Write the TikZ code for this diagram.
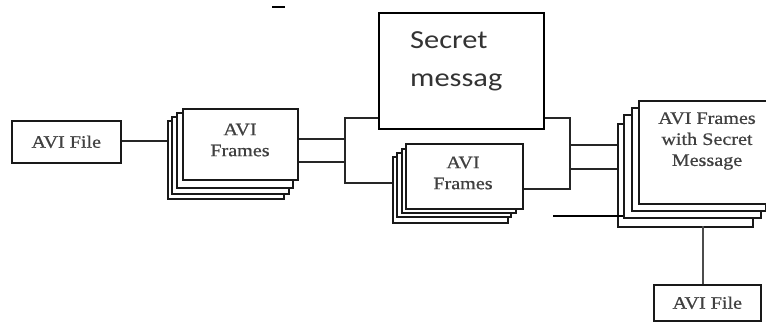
\documentclass[tikz,border=0pt]{standalone}
\usepackage{fontspec}
\newfontfamily\serifwide[FakeStretch=1.15, FakeBold=0.6]{Liberation Serif}
\newfontfamily\sanswide[FakeStretch=1.17]{Carlito}
\tikzset{
  layer/.style={draw=black!90, fill=white, line width=1.5pt, inner sep=0pt, anchor=north west},
  plainbox/.style={draw=black!90, fill=white, line width=1.6pt, inner sep=0pt, anchor=north west},
  lbl/.style={align=center, inner sep=0pt, font=\serifwide\fontsize{17.5}{21}\selectfont, text=black!75},
  wire/.style={draw=black!85, line width=1.4pt},
}
% a rectangle given by its corners (x1,y1) and (x2,y2), in pixel units
\newcommand\rectnode[6]{%
  \node[#1, minimum width={(#5-#3)*1pt}, minimum height={(#6-#4)*1pt}] (#2) at (#3,#4) {};}
\begin{document}
\begin{tikzpicture}[x=1pt, y=-1pt]
\useasboundingbox (0,0) rectangle (766,322);
\clip (0,0) rectangle (766,322);

% source file
\node[plainbox, minimum width=109pt, minimum height=42pt] (srcfile) at (11,120) {};
\node[lbl] at (srcfile.center) {AVI File};

% first stack of frames
\rectnode{layer}{sa}{167}{120}{283}{198}
\rectnode{layer}{sb}{171}{116}{288}{193}
\rectnode{layer}{sc}{176}{112}{292}{187}
\rectnode{layer}{sd}{182}{108}{297}{179}
\node[lbl] at (240,140) {AVI\\Frames};

% secret message
\rectnode{draw=black, fill=white, line width=2.4pt, inner sep=0pt, anchor=north west}{secret}{378}{12}{543}{128}
\node[anchor=north west, inner sep=0pt, align=left, font=\sanswide\fontsize{26}{38}\selectfont, text=black!80]
  at (410,31) {Secret\\messag};

% second stack of frames
\rectnode{layer}{ma}{392}{156}{507}{222}
\rectnode{layer}{mb}{396}{152}{510}{216}
\rectnode{layer}{mc}{401}{148}{515}{212}
\rectnode{layer}{md}{405}{143}{522}{208}
\node[lbl] at (463,173) {AVI\\Frames};

% stack of frames carrying the message
\rectnode{layer}{ra}{617}{123}{752}{226}
\rectnode{layer}{rb}{623}{114}{760}{217}
\rectnode{layer}{rc}{631}{107}{765}{210}
\rectnode{layer}{rd}{638}{100}{772}{203}
\node[lbl] at (707,141) {AVI Frames\\with Secret\\Message};

% output file
\node[plainbox, minimum width=107pt, minimum height=36pt] (outfile) at (653,284) {};
\node[lbl] at (outfile.center) {AVI File};

% junction points
\coordinate (jl) at (345,118);
\coordinate (jr) at (570,118);

% connectors
\draw[wire] (srcfile.east |- 0,141) -- (sa.west |- 0,141);
\draw[wire] (sd.east |- 0,139) -- (jl |- 0,139);
\draw[wire] (sd.east |- 0,162) -- (jl |- 0,162);
\draw[wire] (secret.west |- jl) -- (jl) -- (jl |- 0,183) -- (ma.west |- 0,183);
\draw[wire] (secret.east |- jr) -- (jr) -- (jr |- 0,189) -- (md.east |- 0,189);
\draw[wire] (jr |- 0,145) -- (ra.west |- 0,145);
\draw[wire] (jr |- 0,169) -- (ra.west |- 0,169);
\draw[wire, draw=black!70, line width=1.1pt] (703,226) -- (outfile.north -| 703,0);

% loose marks
\coordinate (mk) at (553,216);
\draw[black, line width=1.8pt] (mk) -- (rb.west |- mk);
\draw[black, line width=1.8pt] (272,7) -- (285,7);
\end{tikzpicture}
\end{document}
